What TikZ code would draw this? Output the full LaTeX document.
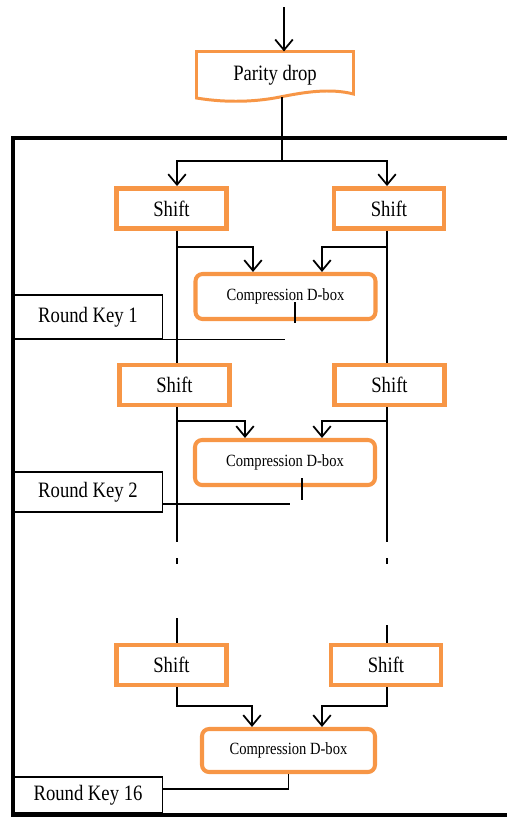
\documentclass[tikz,border=0pt]{standalone}
\usepackage{fontspec}
\setmainfont{Liberation Serif}[FakeStretch=0.85]
\usetikzlibrary{arrows.meta}
\definecolor{dorange}{RGB}{247,150,70}
\begin{document}
\begin{tikzpicture}[x=0.02cm,y=-0.02cm,
    shiftbox/.style={draw=dorange,line width=2.8pt,minimum width=2.2cm,minimum height=0.8cm,
      font=\fontsize{12.5}{14}\selectfont},
    dbox/.style={draw=dorange,line width=2.3pt,rounded corners=4pt,minimum width=3.6cm,
      minimum height=0.9cm,font=\fontsize{9.75}{11}\selectfont},
    keybox/.style={draw,line width=0.6pt,minimum width=2.98cm,font=\fontsize{12.5}{14}\selectfont},
    conn/.style={line width=0.7pt},
    arr/.style={conn,-{Straight Barb[length=6pt,width=10pt,line width=1pt]}},
    frame/.style={line width=2.8pt}]
  \useasboundingbox (0,0) rectangle (507,819);
  \draw[frame] (507,138) -- (13,138) -- (13,815) -- (507,815);
  % parity drop
  \draw[dorange,line width=1.7pt,fill=white] (196.5,51.5) -- (353.5,51.5) -- (353.5,94)
    .. controls (330,88) and (305,92) .. (280,97)
    .. controls (250,103) and (220,102) .. (196.5,98) -- cycle;
  \draw
    (275,75) node[minimum width=3.14cm,minimum height=0.93cm,font=\fontsize{12.5}{14}\selectfont] (pd){Parity drop}
    (171.5,208.5) node[shiftbox] (s1l){Shift}
    (389,208.5) node[shiftbox] (s1r){Shift}
    (174.5,385) node[shiftbox] (s2l){Shift}
    (389.5,385) node[shiftbox] (s2r){Shift}
    (171.5,665) node[shiftbox] (s3l){Shift}
    (386,665) node[shiftbox] (s3r){Shift}
    (285.5,296.5) node[dbox] (d1){Compression D-box}
    (285,462.5) node[dbox] (d2){Compression D-box}
    (288.5,750.5) node[dbox,minimum width=3.46cm,minimum height=0.86cm] (d3){Compression D-box}
    (88,317) node[keybox,minimum height=0.88cm] (rk1){Round Key 1}
    (88,492) node[keybox,minimum height=0.8cm] (rk2){Round Key 2}
    (88,795) node[keybox,minimum height=0.72cm] (rk16){Round Key 16};
  \coordinate (in) at (284,7);
  \coordinate (pdout) at (282,97);
  \coordinate (sp) at (282,161);
  \coordinate (cl) at (177,0);
  \coordinate (cr) at (387,0);
  \coordinate (t1) at (295,302);
  \coordinate (t2) at (302,478);
  \begin{scope}[conn]
    \draw[arr] (in) -- (in |- pd.north);
    \draw (pdout) -- (sp);
    \draw[arr] (sp) -| (s1l.north -| cl);
    \draw[arr] (sp) -| (s1r.north -| cr);
    % round 1
    \draw (s1l.south -| cl) -- (s2l.north -| cl);
    \draw (s1r.south -| cr) -- (s2r.north -| cr);
    \draw[arr] (177,247) -| (d1.north -| 253,0);
    \draw[arr] (387,247) -| (d1.north -| 322,0);
    \draw (t1) -- ++(0,21);
    \draw (rk1.south -| 90,0) -- (rk1.south -| 285,0);
    % round 2
    \draw (s2l.south -| cl) -- (177,542);
    \draw (s2r.south -| cr) -- (387,542);
    \draw[arr] (177,421) -| (d2.north -| 245,0);
    \draw[arr] (387,421) -| (d2.north -| 322,0);
    \draw (t2) -- ++(0,22);
    \draw (rk2.east |- 0,504) -- (290,504);
    \foreach \c in {177,387}
      \draw (\c,558) -- (\c,564);
    % round 16
    \draw (177,618) -- (s3l.north -| cl);
    \draw (387,625) -- (s3r.north -| cr);
    \draw[arr] (s3l.south -| cl) |- (252,706) -- (d3.north -| 252,0);
    \draw[arr] (s3r.south -| cr) |- (322,706) -- (d3.north -| 322,0);
    \draw (d3.south) |- (rk16.east |- 0,789);
  \end{scope}
\end{tikzpicture}
\end{document}
